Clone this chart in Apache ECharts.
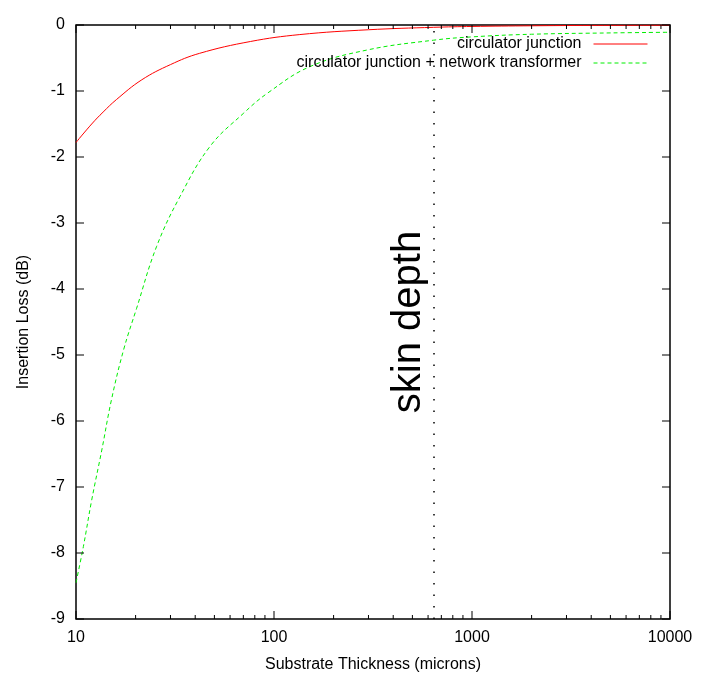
<!DOCTYPE html>
<html><head><meta charset="utf-8">
<script src="https://cdn.jsdelivr.net/npm/echarts@6/dist/echarts.min.js"></script>
<style>html,body{margin:0;padding:0;background:#fff}#c{width:702px;height:678px}</style>
</head><body><div id="c"></div>
<script>
const redX = [10, 12, 13.7, 16, 21.5, 30, 42, 76, 135, 300, 640, 1000, 2000, 4000, 10000];
const redY = [-1.78, -1.5, -1.32, -1.13, -0.83, -0.6, -0.43, -0.25, -0.145, -0.072, -0.035, -0.022, -0.012, -0.006, -0.003];
const greenX = [10, 10.9, 12, 13.5, 15.1, 17.4, 20.2, 25.5, 33.5, 47.5, 70, 93, 152, 294, 640, 1000, 2000, 5000, 10000];
const greenY = [-8.45, -7.9, -7.2, -6.44, -5.68, -4.92, -4.3, -3.36, -2.6, -1.84, -1.34, -1.03, -0.63, -0.38, -0.23, -0.18, -0.14, -0.12, -0.11];
const skinDepth = 640;
const majorX = [10, 100, 1000, 10000];
const minorX = [20,30,40,50,60,70,80,90,200,300,400,500,600,700,800,900,2000,3000,4000,5000,6000,7000,8000,9000];
const yTicks = [-9, -8, -7, -6, -5, -4, -3, -2, -1, 0];
const seriesNames = ['circulator junction', 'circulator junction + network transformer'];

const X_MIN = 10, X_MAX = 10000, Y_MIN = -9, Y_MAX = 0;
const font = 'Liberation Sans, Arial, Helvetica, sans-serif';
const chart = echarts.init(document.getElementById('c'));

const tickStyle = {stroke: '#000', lineWidth: 1};
function xTickSeries(values, len) {
  return {
    type: 'custom', silent: true, clip: false, z: 10,
    data: values.map(v => [v, Y_MIN]),
    renderItem: (params, api) => {
      const b = api.coord([api.value(0), Y_MIN]);
      const t = api.coord([api.value(0), Y_MAX]);
      return {type: 'group', children: [
        {type: 'line', z2: 100, shape: {x1: b[0], y1: b[1], x2: b[0], y2: b[1] - len}, style: tickStyle},
        {type: 'line', z2: 100, shape: {x1: t[0], y1: t[1], x2: t[0], y2: t[1] + len}, style: tickStyle}
      ]};
    }
  };
}
function yTickSeries(values, len) {
  return {
    type: 'custom', silent: true, clip: false, z: 10,
    data: values.map(v => [X_MAX, v]),
    renderItem: (params, api) => {
      const r = api.coord([X_MAX, api.value(1)]);
      const l = api.coord([X_MIN, api.value(1)]);
      return {type: 'group', children: [
        {type: 'rect', z2: 100, shape: {x: l[0], y: l[1] - 0.5, width: len, height: 1}, style: {fill: '#000', stroke: null}},
        {type: 'rect', z2: 100, shape: {x: r[0] - len, y: r[1] - 0.5, width: len, height: 1}, style: {fill: '#000', stroke: null}}
      ]};
    }
  };
}

function legend(name, top) {
  return {
    data: [name], right: 54, top: top, orient: 'vertical', align: 'right',
    itemWidth: 54, itemHeight: 10, padding: 0,
    itemStyle: {opacity: 0},
    lineStyle: {width: 1},
    textStyle: {color: '#000', fontFamily: font, fontSize: 16, padding: [0, 7, 0, 0]}
  };
}

chart.setOption({
  animation: false,
  backgroundColor: '#fff',
  grid: {left: 76, right: 32, top: 25, bottom: 59, show: true, borderColor: '#000', borderWidth: 1.5, backgroundColor: 'transparent'},
  legend: [legend(seriesNames[0], 36), legend(seriesNames[1], 55)],
  xAxis: {
    type: 'log', logBase: 10, min: X_MIN, max: X_MAX,
    axisLine: {show: false, onZero: false},
    axisTick: {show: false},
    axisLabel: {show: true, color: '#000', fontFamily: font, fontSize: 16, margin: 11, formatter: v => String(v)},
    splitLine: {show: false},
    name: 'Substrate Thickness (microns)', nameLocation: 'middle', nameGap: 38,
    nameTextStyle: {color: '#000', fontFamily: font, fontSize: 16}
  },
  yAxis: {
    type: 'value', min: Y_MIN, max: Y_MAX, interval: 1,
    axisLine: {show: false, onZero: false},
    axisTick: {show: false},
    axisLabel: {show: true, color: '#000', fontFamily: font, fontSize: 16, margin: 11},
    splitLine: {show: false},
    name: 'Insertion Loss (dB)', nameLocation: 'middle', nameGap: 44,
    nameTextStyle: {color: '#000', fontFamily: font, fontSize: 16}
  },
  series: [
    {
      name: seriesNames[0], type: 'line',
      data: redX.map((x, i) => [x, redY[i]]),
      smooth: 0.4, symbol: 'none', color: '#ff0000',
      lineStyle: {color: '#ff0000', width: 1},
      markLine: {
        silent: true, symbol: 'none',
        lineStyle: {color: '#000', width: 1.5, type: [1.5, 10]},
        label: {show: true, formatter: 'skin depth', position: 'insideMiddleTop', color: '#000', fontFamily: font, fontSize: 40, distance: 5},
        data: [{xAxis: skinDepth}]
      }
    },
    {
      name: seriesNames[1], type: 'line',
      data: greenX.map((x, i) => [x, greenY[i]]),
      smooth: 0.4, symbol: 'none', color: '#00ee00',
      lineStyle: {color: '#00ee00', width: 1, type: [4, 3]}
    },
    xTickSeries(majorX, 8),
    xTickSeries(minorX, 4),
    yTickSeries(yTicks, 8)
  ]
});
</script></body></html>
